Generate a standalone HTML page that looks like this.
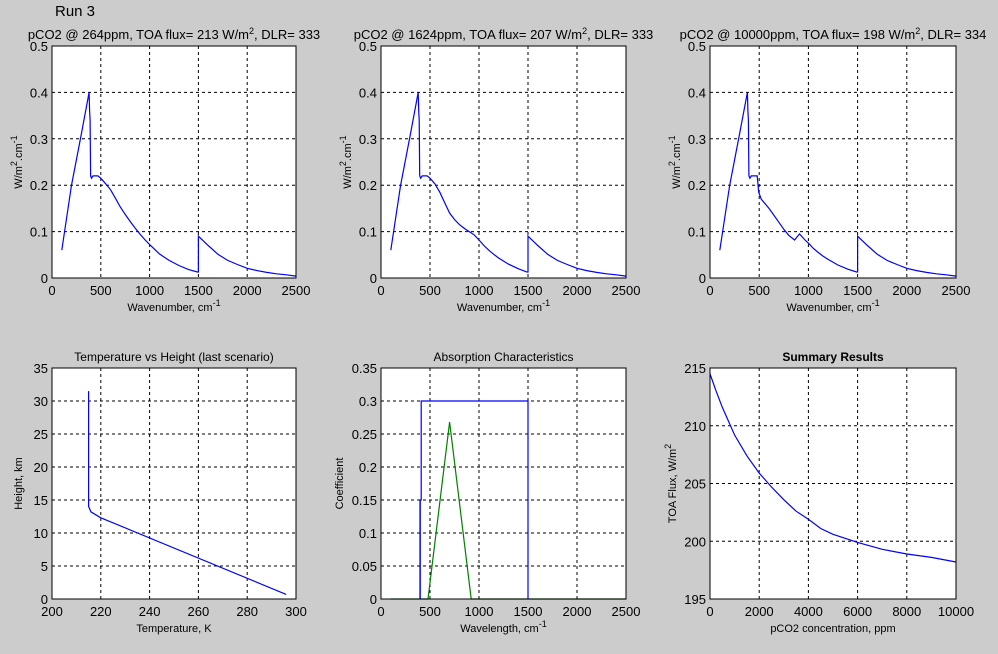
<!DOCTYPE html>
<html><head><meta charset="utf-8"><style>
html,body{margin:0;padding:0;background:#cccccc;}
svg{display:block;font-family:"Liberation Sans",sans-serif;}
</style></head><body>
<svg id="s" width="998" height="654" xmlns="http://www.w3.org/2000/svg">
<rect width="998" height="654" fill="#cccccc"/>
<text x="55" y="16" font-size="15">Run 3</text>
</svg>
<script>
const S=document.getElementById('s');const NS='http://www.w3.org/2000/svg';
function el(t,a,txt){const e=document.createElementNS(NS,t);for(const k in a)e.setAttribute(k,a[k]);if(txt!==undefined)e.textContent=txt;S.appendChild(e);return e;}
function plot(o){
 const {x0,x1,y0,y1,xmin,xmax,ymin,ymax,xt,yt,xl,yl}=o;
 const X=v=>x0+(v-xmin)/(xmax-xmin)*(x1-x0), Y=v=>y1-(v-ymin)/(ymax-ymin)*(y1-y0);
 el('rect',{x:x0,y:y0,width:x1-x0,height:y1-y0,fill:'#fff'});
 xt.forEach(v=>{const px=X(v);if(v!=xmin&&v!=xmax)el('line',{x1:px,y1:y0,x2:px,y2:y1,stroke:'#000','stroke-dasharray':'3,3'});
  el('text',{x:px,y:y1+17,'font-size':13,'text-anchor':'middle'},String(v));});
 yt.forEach(v=>{const py=Y(v);if(v!=ymin&&v!=ymax)el('line',{x1:x0,y1:py,x2:x1,y2:py,stroke:'#000','stroke-dasharray':'3,3'});
  el('text',{x:x0-4,y:py+5,'font-size':13,'text-anchor':'end'},String(v));});
 o.series.forEach(s=>el('polyline',{points:s.p.map(q=>X(q[0]).toFixed(1)+','+Y(q[1]).toFixed(1)).join(' '),fill:'none',stroke:s.c,'stroke-width':1.2}));
 el('rect',{x:x0,y:y0,width:x1-x0,height:y1-y0,fill:'none',stroke:'#000'});
 const t=el('text',{x:(x0+x1)/2,y:y1+33,'font-size':11,'text-anchor':'middle'});t.innerHTML=xl;
 const yy=(y0+y1)/2,yx=x0-o.ylo;const u=el('text',{x:yx,y:yy,'font-size':11,'text-anchor':'middle',transform:`rotate(-90 ${yx} ${yy})`});u.innerHTML=yl;
 const tt=el('text',{x:(x0+x1)/2,y:y0-7,'font-size':o.tfs||13,'text-anchor':'middle','font-weight':o.tb?'bold':'normal'});tt.innerHTML=o.title;
}
const sup=(s,rest)=>`<tspan dy="-5" font-size="9">${s}</tspan><tspan dy="5">${rest||''}</tspan>`;
const wl='Wavenumber, cm'+sup('-1');
const yl1='W/m'+sup('2','.cm')+'<tspan dy="-5" font-size="9">-1</tspan>';
const tail=[[1500,0.013],[1500,0.09],[1600,0.07],[1700,0.051],[1800,0.038],[1900,0.029],[2000,0.021],[2100,0.016],[2200,0.012],[2300,0.009],[2400,0.007],[2500,0.004]];
const head=[[100,0.06],[200,0.2],[300,0.31],[380,0.40],[385,0.36],[390,0.34],[395,0.22],[405,0.215],[420,0.22],[470,0.22]];
function smooth(p){return p;}
const s1=head.concat([[500,0.215],[550,0.203],[600,0.19],[650,0.172],[700,0.153],[750,0.137],[800,0.122],[850,0.108],[900,0.095],[950,0.083],[1000,0.072],[1050,0.062],[1100,0.052],[1150,0.045],[1200,0.038],[1300,0.027],[1400,0.018],[1490,0.013]],tail);
const s2=head.concat([[500,0.215],[550,0.203],[600,0.185],[650,0.162],[700,0.14],[750,0.126],[800,0.115],[850,0.107],[900,0.10],[950,0.093],[1000,0.082],[1050,0.07],[1100,0.06],[1150,0.051],[1200,0.043],[1300,0.03],[1400,0.02],[1490,0.013]],tail);
const s3=head.slice(0,-1).concat([[480,0.22],[495,0.185],[520,0.17],[560,0.16],[600,0.15],[650,0.135],[700,0.12],[750,0.105],[800,0.092],[860,0.082],[910,0.095],[960,0.083],[1000,0.075],[1050,0.064],[1100,0.055],[1150,0.047],[1200,0.04],[1300,0.028],[1400,0.019],[1490,0.013]],tail);
const yt1=[0,0.1,0.2,0.3,0.4,0.5],xt1=[0,500,1000,1500,2000,2500];
[[52,296,'264ppm, TOA flux= 213',333,s1],[381,626,'1624ppm, TOA flux= 207',333,s2],[710,956,'10000ppm, TOA flux= 198',334,s3]].forEach(a=>{
 plot({x0:a[0],x1:a[1],y0:46,y1:278,xmin:0,xmax:2500,ymin:0,ymax:0.5,xt:xt1,yt:yt1,xl:wl,yl:yl1,ylo:30,
  title:`pCO2 @ ${a[2]} W/m`+sup('2',`, DLR= ${a[3]}`),series:[{c:'#0000ff',p:a[4]}]});
});
plot({x0:52,x1:296,y0:368,y1:599,xmin:200,xmax:300,ymin:0,ymax:35,xt:[200,220,240,260,280,300],yt:[0,5,10,15,20,25,30,35],
 xl:'Temperature, K',yl:'Height, km',ylo:30,title:'Temperature vs Height (last scenario)',tfs:12,
 series:[{c:'#0000ff',p:[[215,31.5],[215,14],[216,13.2],[220,12.3],[296,0.7]]}]});
plot({x0:381,x1:626,y0:368,y1:599,xmin:0,xmax:2500,ymin:0,ymax:0.35,xt:xt1,yt:[0,0.05,0.1,0.15,0.2,0.25,0.3,0.35],
 xl:'Wavelength, cm'+sup('-1'),yl:'Coefficient',ylo:38,title:'Absorption Characteristics',tfs:12,
 series:[{c:'#000',p:[[398,0],[398,0.15]]},{c:'#008000',p:[[100,0],[480,0],[700,0.268],[920,0],[2500,0]]},{c:'#0000ff',p:[[400,0],[400,0.15],[410,0.15],[410,0.3],[1500,0.3],[1500,0]]}]});
plot({x0:710,x1:956,y0:368,y1:599,xmin:0,xmax:10000,ymin:195,ymax:215,xt:[0,2000,4000,6000,8000,10000],yt:[195,200,205,210,215],
 xl:'pCO2 concentration, ppm',yl:'TOA Flux, W/m'+sup('2'),ylo:34,title:'Summary Results',tfs:12,tb:1,
 series:[{c:'#0000ff',p:[[0,214.5],[250,213],[500,211.6],[1000,209.2],[1500,207.4],[2000,205.9],[2500,204.7],[3000,203.6],[3500,202.6],[4000,201.9],[4500,201.1],[5000,200.6],[6000,199.9],[7000,199.3],[8000,198.9],[9000,198.6],[10000,198.2]]}]});
</script>
</body></html>
